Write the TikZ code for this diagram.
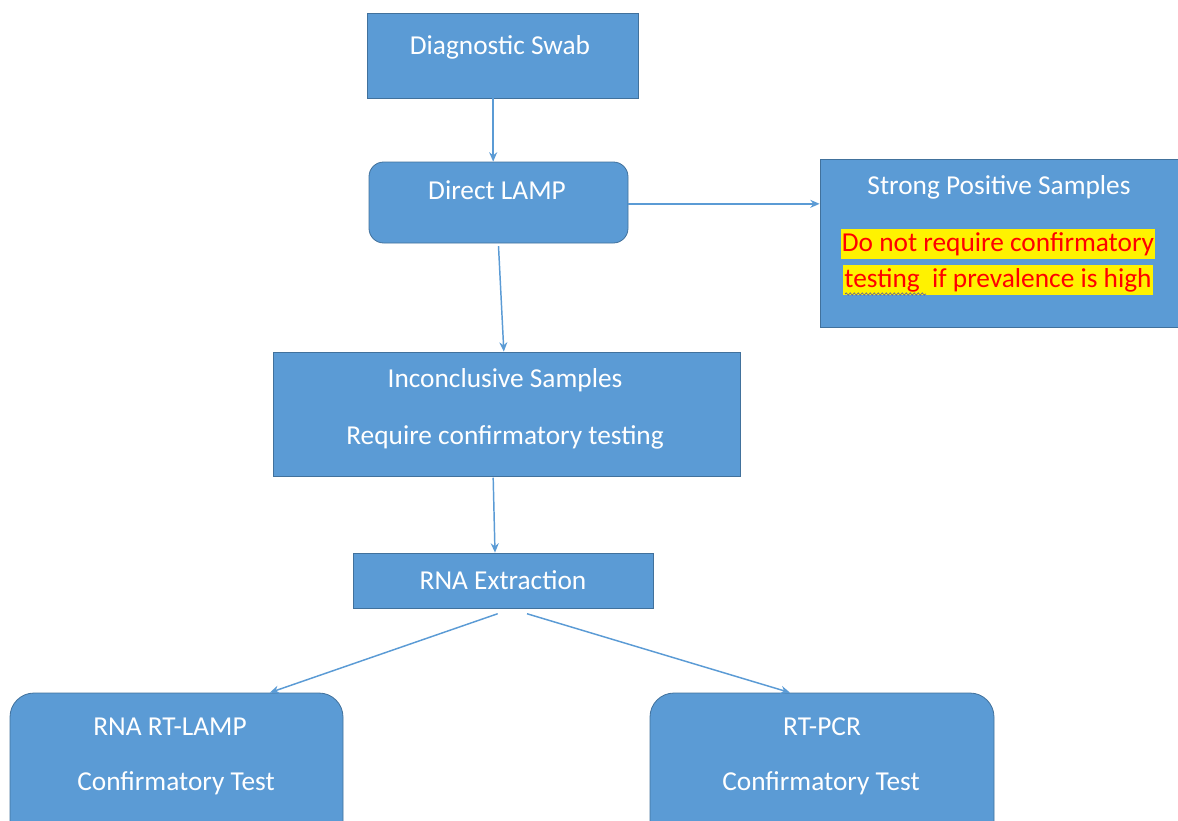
\documentclass[tikz,border=0pt]{standalone}
\usepackage{fontspec}
\setmainfont{Carlito}
\usepackage{xcolor}
\usepackage{tikz}
\usetikzlibrary{arrows.meta,fit,decorations.pathmorphing}

\definecolor{boxblue}{HTML}{5B9BD5}
\definecolor{boxedge}{HTML}{41719C}
\definecolor{flowblue}{HTML}{5B9BD5}

\begin{document}
\begin{tikzpicture}[x=0.75pt, y=-0.75pt,
        box/.style = {draw=boxedge, fill=boxblue, inner sep=0pt, line width=0.6pt},
        roundbox/.style = {box, rounded corners=11pt},
        bigroundbox/.style = {box, rounded corners=18pt},
        boxtext/.style = {text=white, font=\fontsize{20.5}{24}\selectfont, inner sep=0pt},
        warn/.style = {fill=yellow, text=red, font=\fontsize{20.5}{24}\selectfont,
                       inner xsep=1pt, inner ysep=1pt, text height=16pt, text depth=5pt},
        flow/.style = {draw=flowblue, line width=1.1pt, -{Stealth[length=7pt,width=6pt]}},
        squiggle/.style = {draw=gray!70!blue, line width=0.5pt,
                           decorate, decoration={snake, amplitude=0.8pt, segment length=3pt}}
        ]
    \useasboundingbox (0,0) rectangle (1178,821);
    \clip (0,0) rectangle (1178,821);

    \node[box, fit={(367,13) (638,98)}]            (swab)   {};
    \node[roundbox, fit={(369,162) (628,243)}]     (lamp)   {};
    \node[box, fit={(820,159) (1178,327)}]         (strong) {};
    \node[box, fit={(273,352) (740,476)}]          (incon)  {};
    \node[box, fit={(353,553) (653,608)}]          (rna)    {};
    \node[bigroundbox, fit={(10,693) (343,860)}]   (rtlamp) {};
    \node[bigroundbox, fit={(650,693) (994,860)}]  (rtpcr)  {};

    \node[boxtext] (swabtxt)   at (500,47)  {Diagnostic Swab};
    \node[boxtext] (lamptxt)   at (497,190) {Direct LAMP};
    \node[boxtext] (strongtxt) at (999,187) {Strong Positive Samples};
    \node[warn]    (warnone)   at (998,244) {Do not require confirmatory};
    \node[warn]    (warntwo)   at (998,280) {testing\ \ if prevalence is high};
    \node[boxtext] (incontxt)  at (505,380) {Inconclusive Samples};
    \node[boxtext] (inconsub)  at (505,437) {Require confirmatory testing};
    \node[boxtext] (rnatxt)    at (503,580) {RNA Extraction};
    \node[boxtext] (rtlamptxt) at (170,727) {RNA RT-LAMP};
    \node[boxtext] (rtlampsub) at (176,783) {Confirmatory Test};
    \node[boxtext] (rtpcrtxt)  at (822,727) {RT-PCR};
    \node[boxtext] (rtpcrsub)  at (821,783) {Confirmatory Test};

    \draw[squiggle] (845,294) -- (926,294); % spell check mark

    \draw[flow] ([xshift=-7pt]swab.south) -- ([xshift=-4pt]lamp.north);
    \draw[flow] ([yshift=-1pt]lamp.east) -- ([yshift=-1pt]lamp.east -| strong.west);
    \draw[flow] ([yshift=-2pt]lamp.south) -- ([xshift=-2pt]incon.north);
    \draw[flow] ([xshift=-10pt,yshift=-1pt]incon.south) -- ([xshift=-6pt]rna.north);
    \draw[flow] ([xshift=-4pt,yshift=-4pt]rna.south) -- ([xshift=70pt]rtlamp.north);
    \draw[flow] ([xshift=18pt,yshift=-4pt]rna.south) -- ([xshift=-24pt]rtpcr.north);
\end{tikzpicture}
\end{document}
